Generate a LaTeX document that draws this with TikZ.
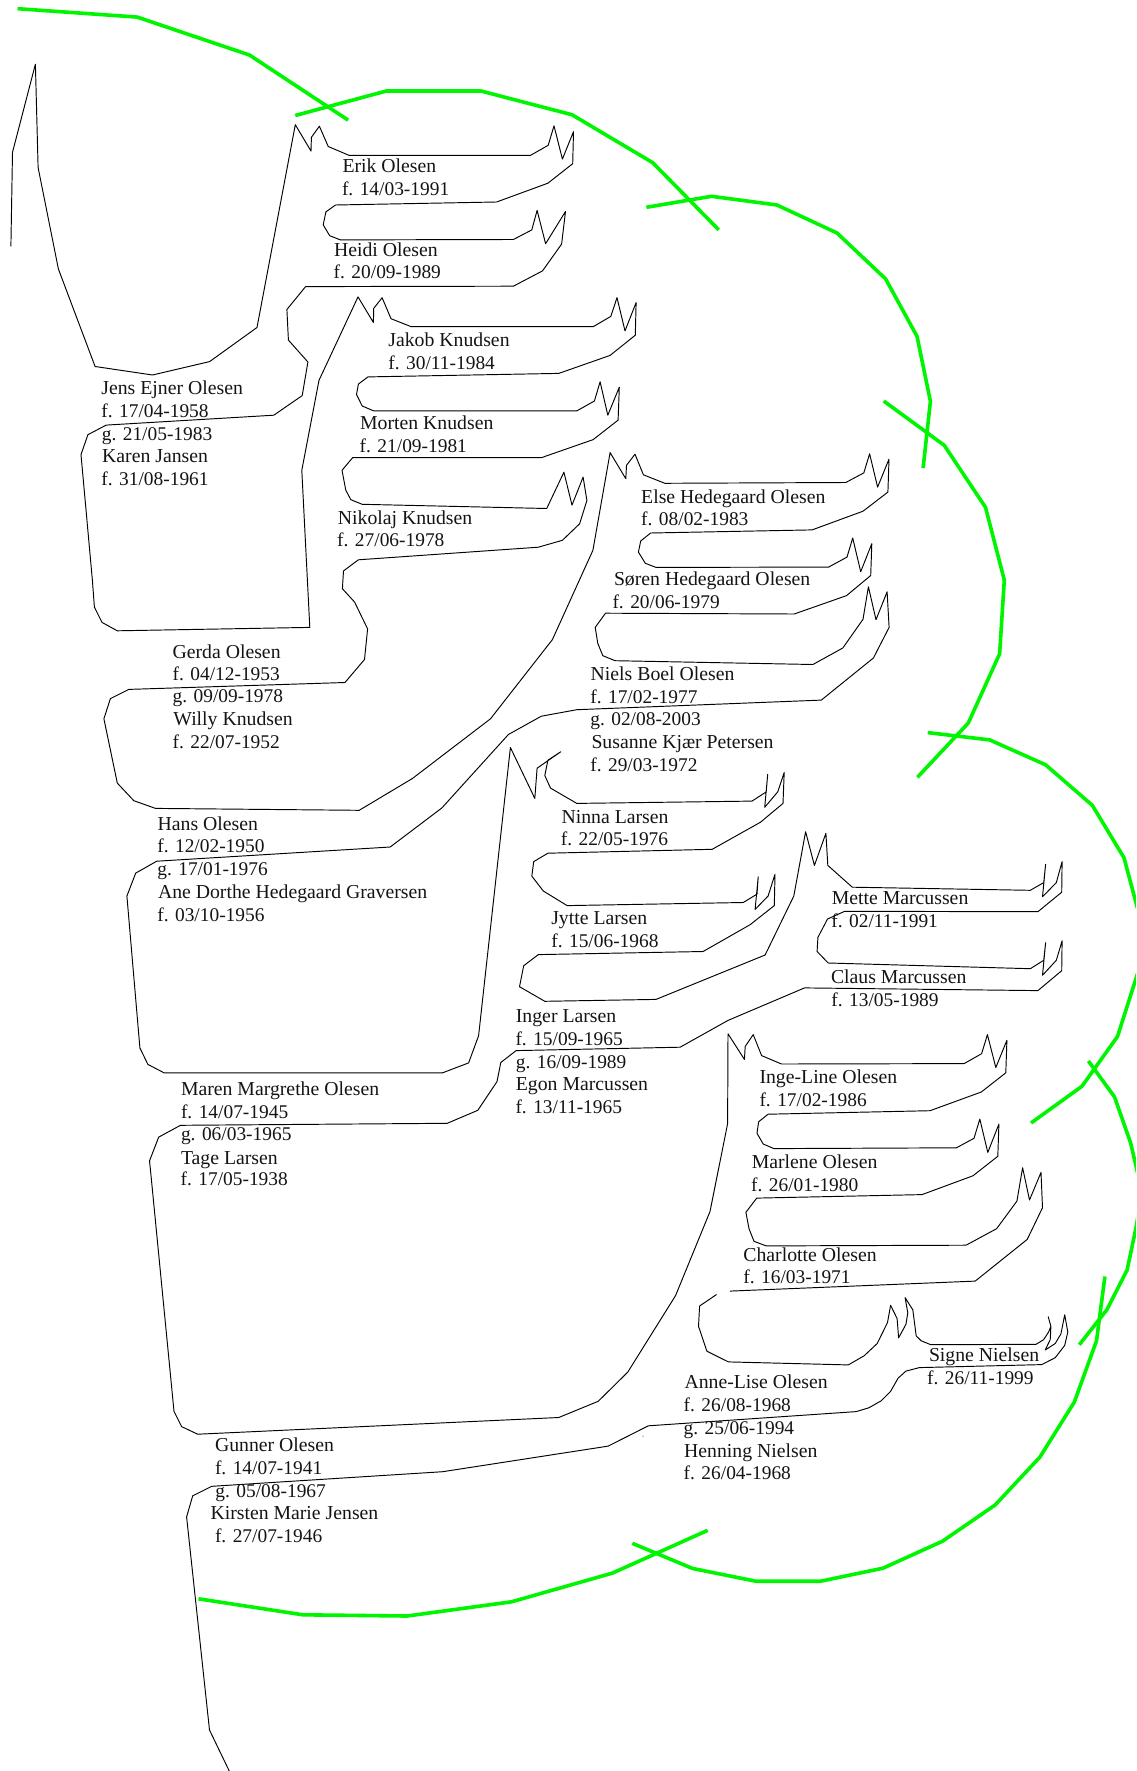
\documentclass[tikz,border=0pt]{standalone}
\usepackage{fontspec}
\setmainfont{Liberation Serif}
\definecolor{glin}{RGB}{0,245,0}
\tikzset{
  blk/.style={draw=black,line width=0.95pt,line join=round},
  grn/.style={draw=glin,line width=3.6pt,line join=round},
  lbl/.style={anchor=base west,inner sep=0pt,outer sep=0pt,font=\fontsize{19.4}{22}\selectfont,text=black!92},
  nam/.style={anchor=base west,inner sep=0pt,outer sep=0pt,font=\fontsize{19.75}{22}\selectfont,text=black!92}
}
\begin{document}
\begin{tikzpicture}[x=1pt,y=-1pt]
\useasboundingbox (0,0) rectangle (1136,1771);
\clip (0,0) rectangle (1136,1771);
\fill[white] (0,0) rectangle (1136,1771);
\begin{scope}[shift={(0.6,0.3)}]
% green outline
\draw[grn] (17,8.4)--(136.6,16.8)--(248.8,54.7)--(347.5,119.8);
\draw[grn] (294.7,115.2)--(385.8,90.7)--(480.3,90.7)--(571.3,114.4)--(652,162.3)--(718.2,229.6);
\draw[grn] (645.8,207)--(710.9,196)--(776.3,204.7)--(836.4,232.7)--(885,278.6)--(916.4,336)--(929.8,401)--(922.5,467.7);
\draw[grn] (883.1,400.7)--(943.6,445)--(984.9,507)--(1003.7,579.8)--(999,653.5)--(967.7,722.7)--(916.8,777);
\draw[grn] (927.1,732.3)--(989.1,739.6)--(1045,764.5)--(1091.7,805)--(1123.4,857.5)--(1146.4,943.6)--(1116.9,1036.2)--(1081.3,1086)--(1030.4,1122.7);
\draw[grn] (1087.8,1060.7)--(1113.9,1096.6)--(1130,1142.6)--(1141,1190)--(1136,1224.6)--(1126.5,1269.7)--(1106.2,1309.5)--(1078.7,1344.4);
\draw[grn] (1104.3,1276.2)--(1095.9,1340.5)--(1073.7,1401.8)--(1039.2,1456.9)--(994.5,1504.7)--(941.7,1541)--(882.3,1567.9)--(820,1580.9)--(755.3,1580.9)--(692.1,1568.2)--(631.7,1543);
\draw[grn] (707.1,1530)--(611.8,1572.8)--(510.9,1601.5)--(406.4,1615.7)--(302.3,1614.5)--(197.9,1598.5);
% black outline, first part
\draw[blk] (10.3,246)--(11.9,152)--(34.8,63.9)--(37.5,167.2)--(57.8,268.7)--(94.5,366.2)--(151.9,374.7)--(209,361.3)--(256.4,327.2)--(294.7,124.4)--(310.4,150.8)--(310.8,137)--(318.8,125.9)--(327.6,146.2)--(348.3,155)--(530,155)--(547.6,145)--(553.4,125.5)--(561.8,158.8)--(572.9,131.3)--(572.1,163.4)--(547.3,182.9)--(496,201.7)--(334.9,204.7)--(325.3,211.6)--(322.6,224.6)--(329.1,235.4)--(339.8,239.6)--(512.8,239.2)--(531.2,229.6)--(536.5,210.1)--(545,243.4)--(564.9,211.2)--(561,243.8)--(541.9,270.6)--(512.8,285.9)--(305,286.3)--(286.3,309.2)--(287.8,339.8)--(307.3,361.7)--(301.6,395.3)--(273.2,414.9)--(105.6,424.8)--(87.3,434.4)--(80.4,454.3)--(91.8,580)--(93.8,606.8)--(101.4,622.1)--(116.7,630.5)--(309.2,627.1)--(301.2,470)--(318.4,380)--(357.4,296.6)--(372.8,322.2)--(373.1,308.1)--(381.5,297.4)--(390.4,318.4)--(410.6,326.4)--(592.6,326.4)--(610.2,316.1)--(616.4,297.4)--(624.4,330.6)--(635.5,302.3)--(634.7,334.9)--(609.5,355.1)--(558.2,373.1)--(367.4,376.6)--(357.8,383.8)--(355.9,394.2)--(361.6,405.7)--(373.1,410.6)--(576.2,410.6)--(593.8,400.7)--(599.5,381.5)--(607.2,414.9)--(618.7,386.9)--(617.5,419.8)--(592.6,439.3)--(541,457.3)--(352.1,457.3)--(341.4,470)--(345.2,489.9)--(350.2,499.4)--(361.6,504)--(546.1,508.2)--(563.3,471.9)--(571.4,504.8)--(582.5,476.8)--(586.3,500.2)--(579,523.5)--(561.8,540)--(537.7,546.9)--(357.8,559.5)--(342.9,570.6)--(341.8,588.4)--(354,601.8)--(367,628.6)--(363.9,659.2)--(344.4,682.2)--(128.2,689.1)--(109.8,698.3)--(103.3,718.5)--(116.7,782.8)--(133.2,800.4)--(155,808.1)--(358.6,810)--(411.8,778.2)--(489.9,718.5)--(551.8,639.3)--(592.3,550)--(609.5,452.3)--(625.2,478.4)--(625.9,465)--(634.4,453.9)--(642.8,474.5)--(664.2,483)--(845.2,482.2)--(863.2,472.6)--(869,453.5)--(877,486.8)--(888.4,458.8)--(887.3,491.8)--(862.4,510.9)--(811.5,529.6)--(650,532.7)--(640.1,540.7)--(637.8,551.8)--(644.7,563)--(655.4,567.1)--(828,566.8)--(846.4,556.8)--(852.1,537.7)--(860.1,571.4)--(871.2,543.4)--(870.1,575.2)--(846,595.3)--(793.6,613.7)--(604.9,612.9)--(594.6,627.1)--(597.2,643.1)--(602.2,655.4)--(614.5,660.4)--(812.3,664.2)--(842.2,647.7)--(862.4,619)--(867.8,586.5)--(875.4,619.4)--(886.5,591.5)--(888.5,627.1)--(872.8,657.7)--(820.7,699.8)--(576.2,709.4)--(540.7,715.9)--(507.8,734.2)--(441.2,807.7)--(389.6,846.7)--(156.1,860.9)--(135.1,872.8)--(126.3,895.7)--(139.3,1047.7)--(147.3,1064.1)--(163.4,1072.5)--(442,1072.5)--(468,1062.6)--(478,1035.4)--(509.8,747.2)--(534.2,798.1)--(536.5,767.9)--(560.2,751.4)--(547.3,759.9)--(544.2,775.2)--(549.9,787.8)--(576.2,803.1)--(751.4,800.8)--(765.6,791.6)--(767.1,774)--(764.1,807)--(777.1,791.6)--(783.6,772.1)--(782.4,803.1)--(759.9,821.9)--(711.6,849)--(547.3,852.9)--(533.1,861.3)--(531.2,875.8)--(542.7,890.7)--(566.5,905.3)--(742.7,902.2)--(756.4,893.8)--(757.6,876.6)--(754.5,909.1)--(767.5,895.7)--(774.4,873.9)--(773.7,905.3)--(749.5,924.4)--(702.5,951.2)--(537.7,954.3)--(523.1,965.4)--(518.9,986.4)--(544.2,1001)--(655.4,999.1)--(764.5,954.7)--(793.2,895.7)--(805,831.4)--(813.8,865.1)--(825.3,833)--(827.2,865.1)--(851.7,886.9)--(1029.7,890)--(1043.1,882.3)--(1045,864)--(1041.9,896.5)--(1055.7,882.3)--(1061.5,861.3)--(1061.1,891.9)--(1037.3,911.4)--(844.1,911)--(826.9,918.7)--(817.3,937.1)--(816.5,951.2)--(827.6,962.7)--(1029.7,968.4)--(1043.1,960)--(1045,942.4)--(1041.9,975)--(1055.7,960)--(1061.5,940.5)--(1061.1,970.4)--(1037.3,990.3)--(803.9,987.6)--(727.4,1020.1)--(679.5,1046.9)--(515.5,1050.3)--(500.2,1062.2)--(496.4,1081.3)--(477.2,1110)--(446.6,1123)--(179.9,1125)--(158.1,1136.8)--(148.9,1160.6)--(150,1171)--(173.4,1411)--(181,1426.3)--(197.1,1433.9)--(558.1,1417.2)--(597.6,1401)--(627.1,1371.9)--(674.9,1295.4)--(709.4,1211.2)--(727,1123.4)--(727.4,1033.5)--(743.8,1059.1)--(744.6,1046.1)--(752.6,1034.3)--(761,1055.3)--(780.9,1063.7)--(963.5,1063.3)--(981,1053.4)--(986.8,1034.3)--(995.2,1067.2)--(1006.3,1040)--(1005.2,1072.5)--(980.7,1091.7)--(929.4,1110.4)--(767.5,1113.9)--(758,1121.5)--(756.4,1133)--(762.6,1143.7)--(773.3,1148.3)--(955.8,1147.5)--(973.4,1138)--(979.2,1118.8)--(987.2,1152.1)--(998.3,1123.8)--(997.2,1156)--(972.3,1175.5)--(921.4,1194.3)--(756.1,1197.8)--(745.3,1212)--(748.4,1228.4)--(753.4,1241)--(765.6,1245.6)--(965.4,1244.9)--(996,1228.4)--(1016.3,1200.8)--(1022,1167.4)--(1028.9,1199.7)--(1040.4,1172.1)--(1041.9,1207.4)--(1026.6,1239.1)--(974.6,1280.8)--(729.2,1290.8);
% black outline, second part
\draw[blk] (715.9,1294.2)--(699,1305.7)--(697.9,1326)--(706.3,1350.9)--(727.8,1361.6)--(847.7,1364.6)--(863.5,1355.5)--(876.6,1343.2)--(886.9,1322.2)--(890,1305)--(896.5,1318.3)--(898,1337.5)--(905.3,1324.1)--(907.2,1312.6)--(904.5,1297.3)--(912.2,1309.5)--(915.6,1335.6)--(920.6,1340.5)--(930.2,1344.4)--(1035.4,1344)--(1043,1339.4)--(1048,1331.7)--(1050.3,1326)--(1047.6,1316.4)--(1050.3,1326)--(1049.6,1339.4)--(1044.6,1349.7)--(1054.6,1343.2)--(1060.3,1333.6)--(1064.1,1314.5)--(1067.2,1331.7)--(1064.1,1345.1)--(1054.6,1357.4)--(1041.1,1364.3)--(918.7,1367.3)--(905.3,1370.8)--(897.6,1377.7)--(890,1391)--(880.4,1400.6)--(868.2,1407.5)--(855.5,1411.3)--(647.7,1425.5)--(607.6,1445.8)--(442,1471.4)--(211.2,1486)--(192.1,1495.5)--(186,1516.6)--(208.9,1729.7)--(228.8,1771);
\fill[black] (642.4,1435.8) circle (0.6);
\end{scope}
% texts
\begin{scope}[shift={(0,0.4)}]
\node[nam] (t01) at (342.5,172.2) {Erik Olesen};
\node[lbl] (t02) at (342,195.2) {f. 14/03-1991};
\node[nam] (t03) at (334,256.4) {Heidi Olesen};
\node[lbl] (t04) at (333.7,278.2) {f. 20/09-1989};
\node[nam] (t05) at (101.4,394.2) {Jens Ejner Olesen};
\node[lbl] (t06) at (101.4,417.1) {f. 17/04-1958};
\node[lbl] (t07) at (101.8,440) {g. 21/05-1983};
\node[nam] (t08) at (102.2,462.3) {Karen Jansen};
\node[lbl] (t09) at (101.4,484.9) {f. 31/08-1961};
\node[nam] (t10) at (388.4,346.3) {Jakob Knudsen};
\node[lbl] (t11) at (388.4,368.9) {f. 30/11-1984};
\node[nam] (t12) at (360.1,429.4) {Morten Knudsen};
\node[lbl] (t13) at (359.7,451.6) {f. 21/09-1981};
\node[nam] (t14) at (337.9,524.3) {Nikolaj Knudsen};
\node[lbl] (t15) at (337.2,546.5) {f. 27/06-1978};
\node[nam] (t16) at (641.2,503.3) {Else Hedegaard Olesen};
\node[lbl] (t17) at (641.2,525.4) {f. 08/02-1983};
\node[nam] (t18) at (614,585.5) {Søren Hedegaard Olesen};
\node[lbl] (t19) at (612.5,608.3) {f. 20/06-1979};
\node[nam] (t20) at (590.7,680.3) {Niels Boel Olesen};
\node[lbl] (t21) at (590.3,703.2) {f. 17/02-1977};
\node[lbl] (t22) at (590.3,725.4) {g. 02/08-2003};
\node[nam] (t23) at (591.5,748.4) {Susanne Kjær Petersen};
\node[lbl] (t24) at (590.3,771.4) {f. 29/03-1972};
\node[nam] (t25) at (561.6,823.4) {Ninna Larsen};
\node[lbl] (t26) at (560.9,845.2) {f. 22/05-1976};
\node[nam] (t27) at (551.3,924.4) {Jytte Larsen};
\node[lbl] (t28) at (551.3,947.4) {f. 15/06-1968};
\node[nam] (t29) at (515.9,1022.4) {Inger Larsen};
\node[lbl] (t30) at (515.5,1045) {f. 15/09-1965};
\node[lbl] (t31) at (515.9,1067.9) {g. 16/09-1989};
\node[nam] (t32) at (515.9,1090.5) {Egon Marcussen};
\node[lbl] (t33) at (515.5,1113.5) {f. 13/11-1965};
\node[nam] (t34) at (831.8,904.5) {Mette Marcussen};
\node[lbl] (t35) at (831.4,927.1) {f. 02/11-1991};
\node[nam] (t36) at (831,983.4) {Claus Marcussen};
\node[lbl] (t37) at (831.4,1005.9) {f. 13/05-1989};
\node[nam] (t38) at (759.5,1083.3) {Inge-Line Olesen};
\node[lbl] (t39) at (759.5,1106.2) {f. 17/02-1986};
\node[nam] (t40) at (751.8,1168.2) {Marlene Olesen};
\node[lbl] (t41) at (751.1,1190.9) {f. 26/01-1980};
\node[nam] (t42) at (743.4,1261.3) {Charlotte Olesen};
\node[lbl] (t43) at (743.4,1283.1) {f. 16/03-1971};
\node[nam] (t44) at (684.5,1388.4) {Anne-Lise Olesen};
\node[lbl] (t45) at (683.7,1411.3) {f. 26/08-1968};
\node[lbl] (t46) at (683.7,1434.3) {g. 25/06-1994};
\node[nam] (t47) at (684.1,1456.9) {Henning Nielsen};
\node[lbl] (t48) at (683.7,1479.5) {f. 26/04-1968};
\node[nam] (t49) at (929,1361.2) {Signe Nielsen};
\node[lbl] (t50) at (927.1,1384.2) {f. 26/11-1999};
\node[nam] (t51) at (172.6,657.7) {Gerda Olesen};
\node[lbl] (t52) at (172.6,680.3) {f. 04/12-1953};
\node[lbl] (t53) at (172.6,702.5) {g. 09/09-1978};
\node[nam] (t54) at (173.4,725.4) {Willy Knudsen};
\node[lbl] (t55) at (172.6,748.4) {f. 22/07-1952};
\node[nam] (t56) at (157.7,830.3) {Hans Olesen};
\node[lbl] (t57) at (157.3,852.5) {f. 12/02-1950};
\node[lbl] (t58) at (157.3,875.4) {g. 17/01-1976};
\node[nam] (t59) at (158,898.4) {Ane Dorthe Hedegaard Graversen};
\node[lbl] (t60) at (157.3,920.6) {f. 03/10-1956};
\node[nam] (t61) at (181,1095.5) {Maren Margrethe Olesen};
\node[lbl] (t62) at (181,1118.1) {f. 14/07-1945};
\node[lbl] (t63) at (181,1140.3) {g. 06/03-1965};
\node[nam] (t64) at (181,1163.6) {Tage Larsen};
\node[lbl] (t65) at (180.6,1185.2) {f. 17/05-1938};
\node[nam] (t66) at (215,1451.5) {Gunner Olesen};
\node[lbl] (t67) at (215,1474.1) {f. 14/07-1941};
\node[lbl] (t68) at (215.4,1497) {g. 05/08-1967};
\node[nam] (t69) at (210.5,1519.3) {Kirsten Marie Jensen};
\node[lbl] (t70) at (215,1542.2) {f. 27/07-1946};
\end{scope}
\end{tikzpicture}
\end{document}
